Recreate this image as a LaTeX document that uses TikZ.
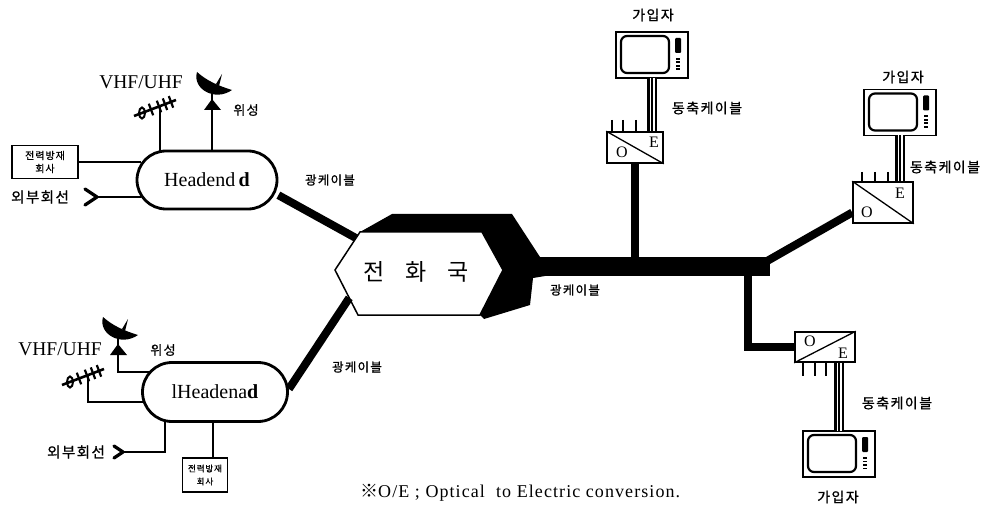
\documentclass[tikz,border=0pt]{standalone}
\usepackage{fontspec}
\setmainfont{Liberation Serif}
\newfontfamily\kr{Noto Sans CJK KR}[LetterSpace=10, FakeBold=1]
\newfontfamily\krplain{Noto Sans CJK KR}
\newfontfamily\notefont{Liberation Serif}[LetterSpace=6]
\usetikzlibrary{calc}

\tikzset{
  lbl/.style={inner sep=0pt, font=\kr\fontsize{12.5}{14}\selectfont},
  lblmid/.style={inner sep=0pt, font=\kr\fontsize{14}{16}\selectfont},
  latin/.style={inner sep=0pt, font=\fontsize{19.5}{21}\selectfont},
  pill/.style={draw, line width=2.8pt, rounded corners=29pt, minimum width=140pt,
               minimum height=58pt, inner sep=0pt, font=\fontsize{20}{22}\selectfont},
  pwrbox/.style={draw, line width=1.2pt, align=center, inner sep=1pt,
                 font=\kr\fontsize{10}{13}\selectfont},
  wire/.style={line width=1.3pt},
  fibre/.style={line width=8pt},
  oebox/.style={draw, line width=1.6pt, inner sep=0pt},
  oelet/.style={inner sep=0pt, font=\fontsize{16}{18}\selectfont},
  pin/.style={line width=2.5pt},
  plug/.style={line width=3.2pt, line join=round, line cap=round},
  coax/.style={line width=10pt, postaction={draw, white, line width=5pt},
               postaction={draw, black, line width=2.4pt}},
  tvset/.pic={
    \draw[line width=1.6pt] (-36,-23) rectangle (36,23);
    \draw[line width=2.2pt, rounded corners=6pt] (-31,-19) rectangle (17,18);
    \fill[rounded corners=1pt] (23,-17) rectangle (29,-2);
    \foreach \yy in {3,6.5,10,13.5} \fill (24,\yy) rectangle (28,\yy+1.8);
    \coordinate (-bot) at (0,23);
    \coordinate (-top) at (0,-23);
  },
  yagi/.pic={
    \draw[line width=2.6pt] (-21,8) -- (21,-8);
    \foreach \t in {-4,4,10,16}
      \draw[line width=2.2pt] ($(\t,-0.381*\t)+(-2.2,-5.8)$) -- ($(\t,-0.381*\t)+(2.2,5.8)$);
    \draw[line width=2pt] (-13,5) ellipse (3 and 5.5);
    \coordinate (-mast) at (5,-2);
  },
  dish/.pic={
    \fill (-16,-13) .. controls (-21,4) and (2,17) .. (19,5)
          .. controls (6,1) and (-6,-4) .. cycle;
    \fill (3,-1) -- (9,-11) -- (6,1) -- cycle;
    \draw[line width=1.5pt] (-1,15) -- (-1,8);
    \fill (-1,14) -- (-9,25) -- (8,25) -- cycle;
    \coordinate (-base) at (-1,25);
  },
}

\begin{document}
\begin{tikzpicture}[x=1pt,y=-1pt]
\useasboundingbox (0,0) rectangle (997,516);

% ---------- telephone office ----------
\coordinate (hubL)  at (335,270);
\coordinate (hubTL) at (360,232);
\coordinate (hubTR) at (482,232);
\coordinate (hubR)  at (503,270);
\coordinate (hubBR) at (480,315);
\coordinate (hubBL) at (358,315);
\fill (hubTL) -- (392,214) -- (512,214) -- (540,257) -- (545,257) -- (545,276)
      -- (533,278) -- (530,305) -- (484,319) -- (hubBR) -- (hubR) -- (hubTR) -- cycle;
\draw[fill=white, line width=1.5pt] (hubL) -- (hubTL) -- (hubTR) -- (hubR)
      -- (hubBR) -- (hubBL) -- cycle;
\node[inner sep=0pt, font=\krplain\fontsize{23}{25}\selectfont] (hub) at (416,272)
      {전\hspace{21pt}화\hspace{21pt}국};

% ---------- head-ends ----------
\node[pill] (hA) at (207,180) {Headend\,\textbf{d}};
\node[pill, minimum width=145pt, minimum height=59pt, rounded corners=29.5pt]
      (hB) at (215,392) {lHeadena\textbf{d}};

\coordinate (hAw1) at ($(hA)+(-66,-17)$);
\coordinate (hAw2) at ($(hA)+(-66,17)$);
\coordinate (hAt1) at ($(hA)+(-47,-28)$);
\coordinate (hAt2) at ($(hA)+(5,-29)$);
\coordinate (hBw1) at ($(hB)+(-66,-20)$);
\coordinate (hBw2) at ($(hB)+(-71,10)$);
\coordinate (hBb1) at ($(hB)+(-50,28)$);
\coordinate (hBb2) at ($(hB)+(-2,29.5)$);

% upper head-end: antenna, dish, power company, outside line
\node[pwrbox, minimum width=66pt, minimum height=33pt] (pbA) at (45,162) {전력방재\\회사};
\draw[wire] (pbA.east) -- (pbA.east -| hAw1);
\coordinate (plugA) at (97,197);
\draw[plug] (85,189) -- (plugA) -- (85,205);
\draw[wire] (plugA) -- (hAw2);
\node[lblmid, font=\kr\fontsize{14.5}{16}\selectfont] (extA) at (40,197) {외부회선};
\pic (yA) at (155,108) {yagi};
\draw[wire] (yA-mast) -- (hAt1);
\node[latin] (vhfA) at (141,82) {VHF/UHF};
\pic (dA) at (213,85) {dish};
\draw[wire] (dA-base) -- (hAt2);
\node[lbl, font=\kr\fontsize{13}{15}\selectfont] (satA) at (246,110) {위성};

% lower head-end
\pic (dB) at (119,330) {dish};
\draw[wire] (dB-base) |- (hBw1);
\node[lbl, font=\kr\fontsize{13}{15}\selectfont] (satB) at (163,350) {위성};
\pic (yB) at (83,377) {yagi};
\draw[wire] (yB-mast) |- (hBw2);
\node[latin] (vhfB) at (60,349) {VHF/UHF};
\coordinate (plugB) at (123,452);
\draw[plug] (114,446) -- (plugB) -- (114,458);
\draw[wire] (hBb1) |- (plugB);
\node[lblmid, font=\kr\fontsize{14.5}{16}\selectfont] (extB) at (76,452) {외부회선};
\node[pwrbox, minimum width=45pt, minimum height=34pt, font=\kr\fontsize{8.5}{13}\selectfont]
      (pbB) at (205,475) {전력방재\\회사};
\draw[wire] (hBb2) -- (hBb2 |- pbB.north);

% optical cables into the office
\draw[fibre] (hA.-12) -- ($(hubL)!0.84!(hubTL)$);
\draw[fibre] ($(hB.east)+(0,-3)$) -- ($(hubL)!0.62!(hubBL)$);
\node[lbl] (fcA) at (330,180) {광케이블};
\node[lbl] (fcB) at (357,367) {광케이블};

% ---------- O/E converters ----------
\node[oebox, minimum width=56pt, minimum height=31pt] (oe1) at (635,147.5) {};
\draw[line width=1.3pt] (oe1.north west) -- (oe1.south east);
\node[oelet] (o1) at ($(oe1)+(-13,5)$) {O};
\node[oelet] (e1) at ($(oe1)+(19,-5)$) {E};

\node[oebox, minimum width=60pt, minimum height=41pt] (oe2) at (883,202.5) {};
\draw[line width=1.3pt] (oe2.north west) -- (oe2.south east);
\node[oelet] (o2) at ($(oe2)+(-16,10)$) {O};
\node[oelet] (e2) at ($(oe2)+(17,-9)$) {E};

\node[oebox, minimum width=60pt, minimum height=30pt] (oe3) at (825,347) {};
\draw[line width=1.3pt] (oe3.south west) -- (oe3.north east);
\node[oelet] (o3) at ($(oe3)+(-15,-6)$) {O};
\node[oelet] (e3) at ($(oe3)+(18,6)$) {E};

% output pins
\foreach \px in {612,623,636} \draw[pin] (\px,120) -- (\px,132);
\foreach \px in {862,875,888} \draw[pin] (\px,172) -- (\px,182);
\foreach \px in {803,815,826} \draw[pin] (\px,362) -- (\px,376);

% ---------- trunk and branches ----------
\coordinate (trunkL) at (538,266.5);
\coordinate (trunkR) at (770,266.5);
\draw[line width=19pt] (trunkL) -- (trunkR);
\node[lbl] (fcC) at (575,290) {광케이블};
\draw[fibre] (oe1.south) -- (oe1.south |- trunkR);
\draw[fibre] ($(trunkR)+(-2,-6)$) -- ($(oe2.west)+(0,10)$);
\draw[fibre, line join=miter] ($(trunkR)+(-22,0)$) |- (oe3.west);

% ---------- subscribers ----------
\pic (tv1) at (652,55) {tvset};
\pic (tv2) at (900,112.5) {tvset};
\pic (tv3) at (839,454) {tvset};
\draw[coax] (tv1-bot) -- (tv1-bot |- oe1.north);
\draw[coax] (tv2-bot) -- (tv2-bot |- oe2.north);
\draw[coax] (tv3-top) -- (tv3-top |- oe3.south);
\node[lblmid] (sub1) at (653,15) {가입자};
\node[lblmid] (sub2) at (903,77) {가입자};
\node[lblmid] (sub3) at (838,497) {가입자};
\node[lblmid] (cx1) at (707,108) {동축케이블};
\node[lblmid] (cx2) at (945,167) {동축케이블};
\node[lblmid] (cx3) at (897,403) {동축케이블};

% ---------- note ----------
\node[anchor=west, inner sep=0pt, font=\notefont\fontsize{18}{20}\selectfont] (note)
  at (360,493) {{\krplain ※}O/E ; Optical\ \ to Electric conversion.};
\end{tikzpicture}
\end{document}
